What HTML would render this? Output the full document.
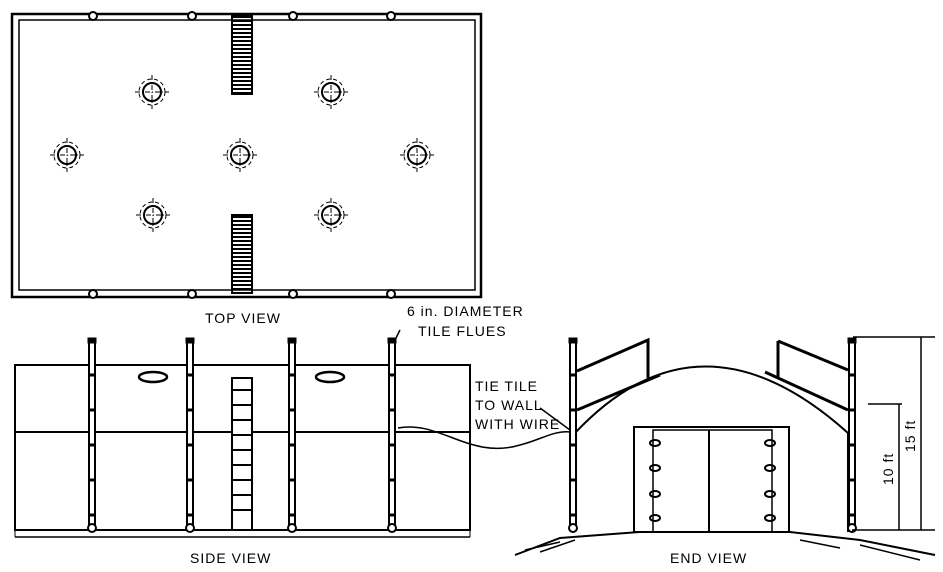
<!DOCTYPE html>
<html><head><style>body{margin:0;background:#fff}svg{display:block}text{font-family:"Liberation Sans",sans-serif;fill:#000}</style></head><body>
<svg width="943" height="572" viewBox="0 0 943 572" xmlns="http://www.w3.org/2000/svg">
<defs>
<g id="flue"><circle r="9" fill="none" stroke="#000" stroke-width="2"/><circle r="13" fill="none" stroke="#000" stroke-width="1" stroke-dasharray="4,3"/><line x1="-17" y1="0" x2="17" y2="0" stroke="#000" stroke-dasharray="5,2,1,2"/><line x1="0" y1="-17" x2="0" y2="17" stroke="#000" stroke-dasharray="5,2,1,2"/></g>
<g id="post"><rect x="-3" y="0" width="6" height="190" fill="#fff" stroke="#000" stroke-width="2"/><rect x="-4" y="-2" width="8" height="5" fill="#000"/><line x1="-4" y1="35" x2="4" y2="35" stroke="#000" stroke-width="3"/><line x1="-4" y1="70" x2="4" y2="70" stroke="#000" stroke-width="3"/><line x1="-4" y1="105" x2="4" y2="105" stroke="#000" stroke-width="3"/><line x1="-4" y1="140" x2="4" y2="140" stroke="#000" stroke-width="3"/><line x1="-4" y1="175" x2="4" y2="175" stroke="#000" stroke-width="3"/><circle cx="0" cy="188" r="4" fill="#fff" stroke="#000" stroke-width="2"/></g>
<pattern id="rungs" width="20" height="4" patternUnits="userSpaceOnUse"><rect width="20" height="2" fill="#000"/></pattern>
</defs>
<g stroke="#000" fill="none">
<!-- TOP VIEW -->
<rect x="12" y="14" width="469" height="283" stroke-width="2.5"/>
<rect x="19" y="20" width="456" height="270" stroke-width="1.5"/>
<g fill="#fff" stroke-width="2">
<circle cx="93" cy="16" r="4"/><circle cx="192" cy="16" r="4"/><circle cx="293" cy="16" r="4"/><circle cx="391" cy="16" r="4"/>
<circle cx="93" cy="294" r="4"/><circle cx="192" cy="294" r="4"/><circle cx="293" cy="294" r="4"/><circle cx="391" cy="294" r="4"/>
</g>
<rect x="232" y="16" width="20" height="78" fill="url(#rungs)" stroke-width="2"/>
<rect x="232" y="215" width="20" height="78" fill="url(#rungs)" stroke-width="2"/>
<use href="#flue" x="152" y="92"/><use href="#flue" x="331" y="92"/>
<use href="#flue" x="67" y="155"/><use href="#flue" x="240" y="155"/><use href="#flue" x="417" y="155"/>
<use href="#flue" x="153" y="215"/><use href="#flue" x="331" y="215"/>
<!-- SIDE VIEW -->
<rect x="15" y="365" width="455" height="165" stroke-width="2"/>
<line x1="15" y1="432" x2="470" y2="432" stroke-width="2"/>
<line x1="15" y1="537" x2="470" y2="537" stroke-width="1.5"/>
<line x1="15" y1="530" x2="15" y2="537"/><line x1="470" y1="530" x2="470" y2="537"/>
<ellipse cx="153" cy="377" rx="14" ry="5" stroke-width="2.5"/><ellipse cx="330" cy="377" rx="14" ry="5" stroke-width="2.5"/>
<rect x="232" y="378" width="20" height="152" fill="#fff" stroke-width="2"/>
<g stroke-width="2"><line x1="232" y1="390" x2="252" y2="390"/><line x1="232" y1="405" x2="252" y2="405"/><line x1="232" y1="420" x2="252" y2="420"/><line x1="232" y1="435" x2="252" y2="435"/><line x1="232" y1="450" x2="252" y2="450"/><line x1="232" y1="465" x2="252" y2="465"/><line x1="232" y1="480" x2="252" y2="480"/><line x1="232" y1="495" x2="252" y2="495"/><line x1="232" y1="510" x2="252" y2="510"/></g>
<use href="#post" x="92" y="340"/><use href="#post" x="190" y="340"/><use href="#post" x="292" y="340"/><use href="#post" x="392" y="340"/>
<path d="M398 428 C440 420 470 460 520 445 C540 440 555 430 570 432" stroke-width="1.5"/>
<line x1="400" y1="330" x2="394" y2="342" stroke-width="1.5"/>
<line x1="540" y1="408" x2="570" y2="430" stroke-width="1.5"/>
<!-- END VIEW -->
<path d="M575 433 Q 700 300 848 433" stroke-width="2"/>
<line x1="575" y1="433" x2="575" y2="532" stroke-width="2"/>
<line x1="848" y1="433" x2="848" y2="532" stroke-width="2"/>
<path d="M577 371 L648 340 L648 378 M577 410 L660 375" stroke-width="3"/>
<path d="M778 341 L778 377 M778 341 L848 370 M765 372 L848 410" stroke-width="3"/>
<rect x="634" y="427" width="155" height="105" stroke-width="2"/>
<rect x="653" y="430" width="119" height="102" stroke-width="1.5"/>
<line x1="709" y1="430" x2="709" y2="532" stroke-width="2"/>
<g stroke-width="2"><ellipse cx="655" cy="443" rx="5" ry="3"/><ellipse cx="655" cy="468" rx="5" ry="3"/><ellipse cx="655" cy="494" rx="5" ry="3"/><ellipse cx="655" cy="518" rx="5" ry="3"/>
<ellipse cx="770" cy="443" rx="5" ry="3"/><ellipse cx="770" cy="468" rx="5" ry="3"/><ellipse cx="770" cy="494" rx="5" ry="3"/><ellipse cx="770" cy="518" rx="5" ry="3"/></g>
<use href="#post" x="573" y="340"/><use href="#post" x="852" y="340"/>
<path d="M515 555 L560 538 L640 532 L790 532 L860 540 L935 555" stroke-width="2"/>
<path d="M525 550 L560 542 M540 552 L575 540 M800 540 L840 548 M860 545 L920 560" stroke-width="1.5"/>
<line x1="853" y1="337" x2="935" y2="337" stroke-width="1.5"/>
<line x1="921" y1="337" x2="921" y2="530" stroke-width="1.5"/>
<line x1="868" y1="404" x2="902" y2="404" stroke-width="1.5"/>
<line x1="899" y1="404" x2="899" y2="530" stroke-width="1.5"/>
<line x1="852" y1="530" x2="935" y2="530" stroke-width="1.5"/>
</g>
<g font-size="14" letter-spacing="1">
<text x="205" y="323">TOP VIEW</text>
<text x="190" y="563">SIDE VIEW</text>
<text x="670" y="563">END VIEW</text>
<text x="407" y="316">6 in. DIAMETER</text>
<text x="418" y="336">TILE FLUES</text>
<text x="475" y="391">TIE TILE</text>
<text x="475" y="410">TO WALL</text>
<text x="475" y="429">WITH WIRE</text>
<text transform="translate(893,485) rotate(-90)">10 ft</text>
<text transform="translate(915,452) rotate(-90)">15 ft</text>
</g>
</svg>
</body></html>
